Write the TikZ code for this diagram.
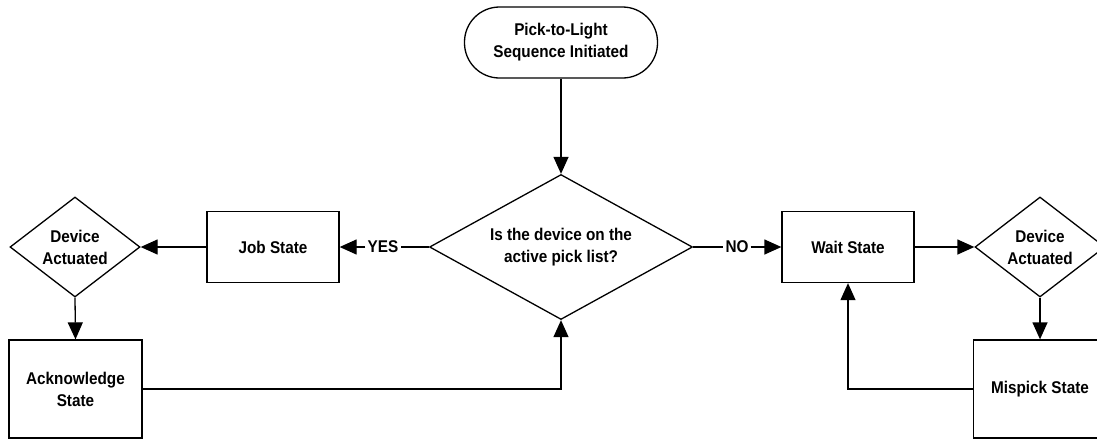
\documentclass[tikz,border=0pt]{standalone}
\usepackage{fontspec}
\setmainfont{Liberation Sans}[FakeStretch=0.9]
\usetikzlibrary{shapes.geometric,arrows.meta}
\begin{document}
\begin{tikzpicture}[x=1pt,y=-1pt,
  every node/.style={font=\fontsize{17}{22}\selectfont\bfseries, align=center},
  conn/.style={line width=1.3pt},
  arr/.style={conn, -{Triangle[length=17pt,width=15pt]}},
  box/.style={draw, line width=1.3pt, rectangle, minimum width=132pt, minimum height=71pt, inner sep=0pt},
  bigbox/.style={box, minimum width=133pt, minimum height=98pt},
  term/.style={draw, line width=1.3pt, rectangle, rounded corners=35pt, minimum width=193pt, minimum height=71pt, inner sep=0pt},
  decision/.style={draw, line width=1.3pt, diamond, inner sep=0pt},
  lbl/.style={inner sep=2pt}
]
\useasboundingbox (0,0) rectangle (1097,440);
\node[term] (start) at (561,42.5) {Pick-to-Light\\Sequence Initiated};
\node[decision, aspect=1.81, minimum width=263pt, minimum height=145pt] (main) at (561,247) {Is the device on the\\active pick list?};
\node[box] (job) at (273,247) {Job State};
\node[box] (wait) at (848,247) {Wait State};
\node[decision, aspect=1.3, minimum width=130pt, minimum height=100pt] (ld) at (75,247) {Device\\Actuated};
\node[decision, aspect=1.3, minimum width=130pt, minimum height=100pt] (rd) at (1040,247) {Device\\Actuated};
\node[bigbox] (ack) at (75.5,389) {Acknowledge\\State};
\node[bigbox] (mis) at (1040,389) {Mispick State};
\node[lbl] (yes) at (383,247) {YES};
\node[lbl] (no) at (737,247) {NO};

\draw[arr] (start.south) -- (main.north);
\draw[conn] (main.west) -- (yes.east);
\draw[arr] (yes.west) -- (job.east);
\draw[arr] (job.west) -- (ld.east);
\draw[arr] (ld.south) -- (ack.north);
\draw[arr] (ack.east) -| (main.south);
\draw[conn] (main.east) -- (no.west);
\draw[arr] (no.east) -- (wait.west);
\draw[arr] (wait.east) -- (rd.west);
\draw[arr] (rd.south) -- (mis.north);
\draw[arr] (mis.west) -| (wait.south);
\end{tikzpicture}
\end{document}
